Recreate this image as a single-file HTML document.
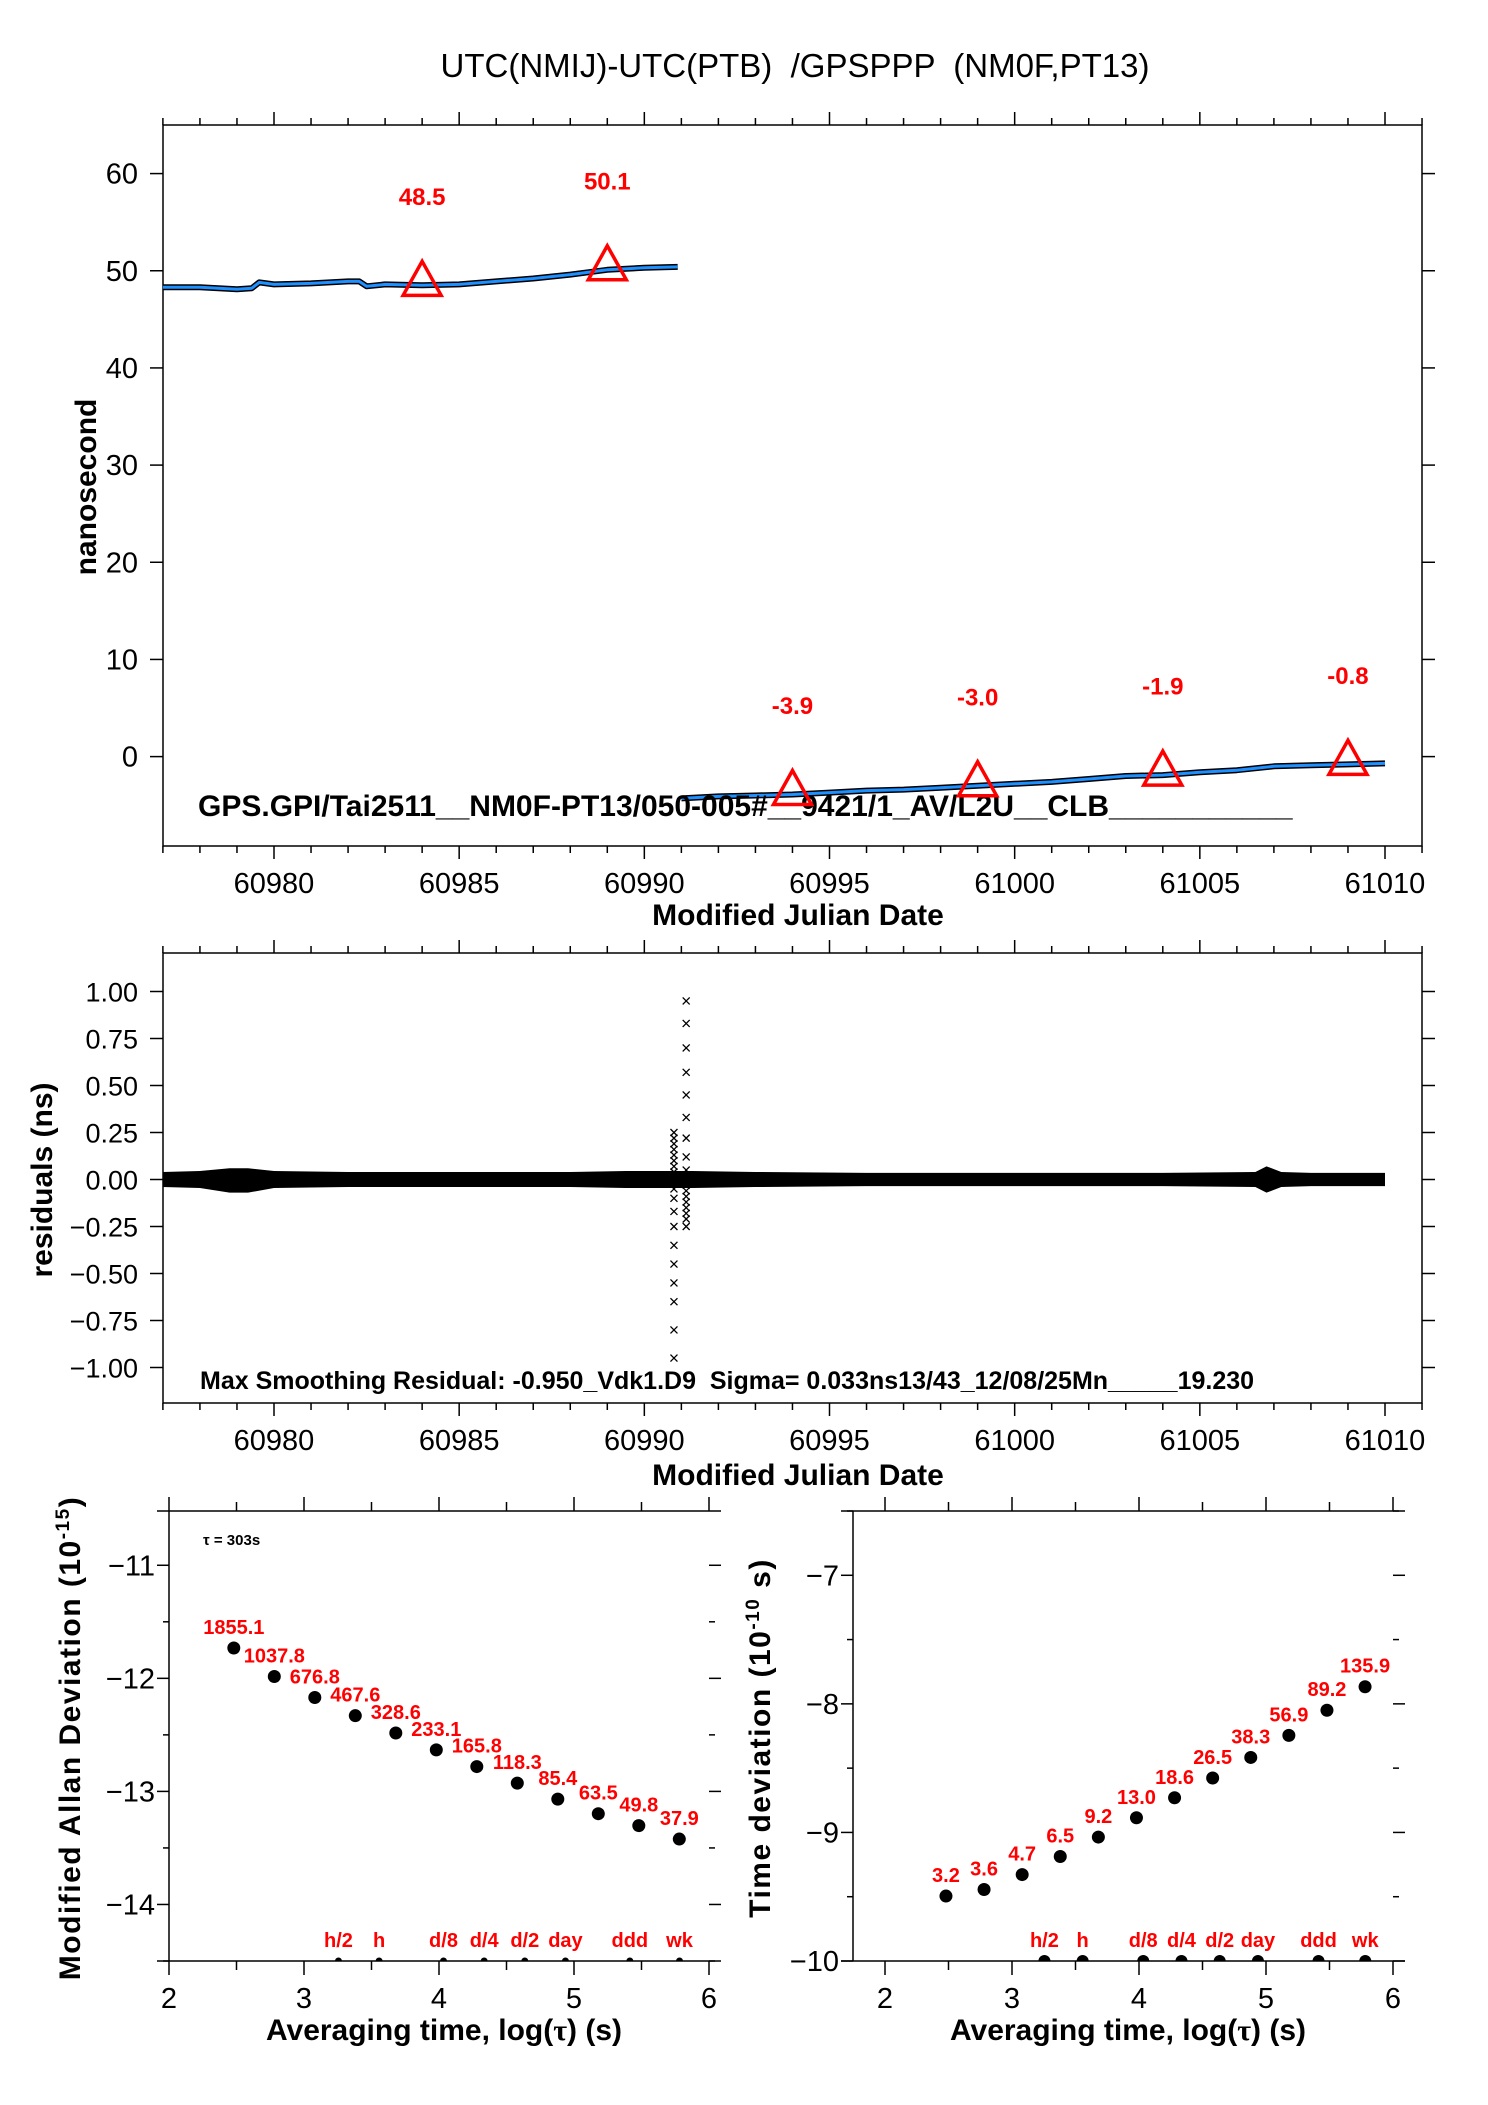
<!DOCTYPE html>
<html><head><meta charset="utf-8"><style>
body{margin:0;background:#fff}
svg{display:block;font-family:"Liberation Sans",sans-serif}
</style></head><body>
<svg id="c" width="1488" height="2105" viewBox="0 0 1488 2105" xmlns="http://www.w3.org/2000/svg">
<text x="795" y="77" font-size="33" text-anchor="middle" style="white-space:pre">UTC(NMIJ)-UTC(PTB)  /GPSPPP  (NM0F,PT13)</text>
</svg>
<script>
// ===== Data =====
const seg1Mjd = [60977,60978,60979,60979.4,60979.6,60980,60981,60982,60982.3,60982.5,60983,60984,60985,60986,60987,60988,60989,60990,60990.9];
const seg1Val = [48.3,48.3,48.1,48.2,48.8,48.6,48.7,48.9,48.9,48.4,48.6,48.5,48.6,48.9,49.2,49.6,50.1,50.3,50.4];
const seg2Mjd = [60991,60992,60993,60994,60995,60996,60997,60998,60999,61000,61001,61002,61003,61004,61005,61006,61007,61008,61009,61010];
const seg2Val = [-4.3,-4.1,-4.0,-3.9,-3.7,-3.5,-3.4,-3.2,-3.0,-2.8,-2.6,-2.3,-2.0,-1.9,-1.6,-1.4,-1.0,-0.9,-0.8,-0.7];
const markMjd = [60984,60989,60994,60999,61004,61009];
const markVal = [48.5,50.1,-3.9,-3.0,-1.9,-0.8];
const topYTicks = [0,10,20,30,40,50,60];
const mjdTicks = [60980,60985,60990,60995,61000,61005,61010];

const resEnvMjd = [60977,60978,60978.8,60979.3,60980,60982,60984,60986,60988,60989.5,60990.7,60991.3,60993,60996,61000,61004,61006.5,61006.8,61007.2,61008,61010];
const resEnvHi  = [0.04,0.045,0.06,0.06,0.045,0.04,0.04,0.04,0.04,0.045,0.045,0.045,0.04,0.035,0.035,0.035,0.04,0.07,0.04,0.035,0.035];
const resEnvLo  = [-0.04,-0.045,-0.07,-0.07,-0.045,-0.04,-0.04,-0.04,-0.04,-0.045,-0.045,-0.045,-0.04,-0.035,-0.035,-0.035,-0.04,-0.07,-0.04,-0.035,-0.035];
const spikeAMjd = 60990.8;
const spikeAVal = [0.25,0.22,0.19,0.16,0.13,0.1,0.07,0.04,0.01,-0.02,-0.05,-0.1,-0.17,-0.25,-0.35,-0.45,-0.55,-0.65,-0.8,-0.95];
const spikeBMjd = 60991.13;
const spikeBVal = [0.95,0.83,0.7,0.57,0.45,0.33,0.22,0.12,0.05,0.0,-0.03,-0.06,-0.09,-0.12,-0.15,-0.18,-0.21,-0.25];
const resYTicks = [1.0,0.75,0.5,0.25,0,-0.25,-0.5,-0.75,-1.0];
const resYLabels = ["1.00","0.75","0.50","0.25","0.00","\u22120.25","\u22120.50","\u22120.75","\u22121.00"];

const adevTau = [2.48,2.78,3.08,3.38,3.68,3.98,4.28,4.58,4.88,5.18,5.48,5.78];
const adevVal = [1855.1,1037.8,676.8,467.6,328.6,233.1,165.8,118.3,85.4,63.5,49.8,37.9];
const adevYTicks = [-11,-12,-13,-14];
const tdevVal = [3.2,3.6,4.7,6.5,9.2,13.0,18.6,26.5,38.3,56.9,89.2,135.9];
const tdevYTicks = [-7,-8,-9,-10];
const logXTicks = [2,3,4,5,6];
const refNames = ["h/2","h","d/8","d/4","d/2","day","ddd","wk"];
const refSecs = [1800,3600,10800,21600,43200,86400,259200,604800];

// ===== helpers =====
const NS="http://www.w3.org/2000/svg";
const svg=document.getElementById('c');
function mk(tag,attrs,parent){const e=document.createElementNS(NS,tag);for(const k in attrs)e.setAttribute(k,attrs[k]);(parent||svg).appendChild(e);return e;}
function lin(d0,d1,r0,r1){return v=>r0+(v-d0)*(r1-r0)/(d1-d0);}
const PL=163, PR=1422;

// ===== Top plot =====
const tX=lin(60980,61010,274,1385), tY=lin(-9.2,65,846,125);
const gTop=mk('g',{});


let r=mk('rect',{x:PL,y:125,width:PR-PL,height:721,fill:'none',stroke:'#000','stroke-width':1.5},gTop);


function mjdAxis(g,X,yt,yb,titleOff){
  for(let d=60977;d<=61011;d++){
    const major=(d%5===0), len=major?13:7, x=X(d);
    mk('line',{x1:x,x2:x,y1:yt,y2:yt-len,stroke:'#000','stroke-width':1.5},g);
    mk('line',{x1:x,x2:x,y1:yb,y2:yb+len,stroke:'#000','stroke-width':1.5},g);
  }
  mjdTicks.forEach(v=>{const t=mk('text',{x:X(v),y:yb+47,'font-size':29,'text-anchor':'middle'},g);t.textContent=v;
    
    });
  const tt=mk('text',{x:798,y:yb+titleOff,'font-size':30,'font-weight':'bold','text-anchor':'middle'},g);
  tt.textContent='Modified Julian Date';
  
  
}
mjdAxis(gTop,tX,125,846,79);
topYTicks.forEach(v=>{const y=tY(v);
  mk('line',{x1:PL,x2:PL-13,y1:y,y2:y,stroke:'#000','stroke-width':1.5},gTop);
  mk('line',{x1:PR,x2:PR+13,y1:y,y2:y,stroke:'#000','stroke-width':1.5},gTop);
  const t=mk('text',{x:138,y:y+10,'font-size':29,'text-anchor':'end'},gTop);t.textContent=v;
  
  });
let yt=mk('text',{transform:'translate(96,487) rotate(-90)','font-size':30,'font-weight':'bold','text-anchor':'middle'},gTop);
yt.textContent='nanosecond';


function series(mj,vals,name){
  const pts=mj.map((m,i)=>tX(m).toFixed(1)+','+tY(vals[i]).toFixed(1)).join(' ');
  mk('polyline',{points:pts,fill:'none',stroke:'#000','stroke-width':6,'stroke-linejoin':'round'},gTop);
  const p=mk('polyline',{points:pts,fill:'none',stroke:'#1e90ff','stroke-width':3,'stroke-linejoin':'round'},gTop);
  
  
}
series(seg1Mjd,seg1Val,'offset-series-1');
series(seg2Mjd,seg2Val,'offset-series-2');
let info=mk('text',{x:198,y:816,'font-size':30,'font-weight':'bold'},gTop);
info.textContent='GPS.GPI/Tai2511__NM0F-PT13/050-005#__9421/1_AV/L2U__CLB___________';


markMjd.forEach((m,i)=>{const x=tX(m),y=tY(markVal[i]);
  const p=mk('polygon',{points:`${x},${y-24} ${x-19},${y+10} ${x+19},${y+10}`,fill:'none',stroke:'#f00','stroke-width':3.5},gTop);
  
  
  const t=mk('text',{x:x,y:tY(markVal[i]+9.2)+9,'font-size':24,'font-weight':'bold',fill:'#f00','text-anchor':'middle'},gTop);
  t.textContent=markVal[i].toFixed(1);
  
  });

// ===== Residual plot =====
const RT=953, RB=1403;
const rX=tX, rY=lin(0,1,1179.5,991.5);
const gRes=mk('g',{});


r=mk('rect',{x:PL,y:RT,width:PR-PL,height:RB-RT,fill:'none',stroke:'#000','stroke-width':1.5},gRes);


mjdAxis(gRes,rX,RT,RB,82);
resYTicks.forEach((v,i)=>{const y=rY(v);
  mk('line',{x1:PL,x2:PL-13,y1:y,y2:y,stroke:'#000','stroke-width':1.5},gRes);
  mk('line',{x1:PR,x2:PR+13,y1:y,y2:y,stroke:'#000','stroke-width':1.5},gRes);
  const t=mk('text',{x:138,y:y+10,'font-size':27,'text-anchor':'end'},gRes);t.textContent=resYLabels[i];
  
  });
yt=mk('text',{transform:'translate(52,1180) rotate(-90)','font-size':30,'font-weight':'bold','text-anchor':'middle'},gRes);
yt.textContent='residuals (ns)';


let bandPts=resEnvMjd.map((m,i)=>rX(m)+','+rY(resEnvHi[i])).concat(resEnvMjd.slice().reverse().map((m,i)=>rX(m)+','+rY(resEnvLo[resEnvLo.length-1-i]))).join(' ');
let band=mk('polygon',{points:bandPts,fill:'#000'},gRes);


function cross(x,y){
  const c=mk('path',{d:`M${x-3.5},${y-3.5}L${x+3.5},${y+3.5}M${x-3.5},${y+3.5}L${x+3.5},${y-3.5}`,stroke:'#000','stroke-width':1.3},gRes);
  
  
}
spikeAVal.forEach(v=>cross(rX(spikeAMjd),rY(v)));
spikeBVal.forEach(v=>cross(rX(spikeBMjd),rY(v)));
info=mk('text',{x:200,y:1389,'font-size':25,'font-weight':'bold',style:'white-space:pre'},gRes);
info.textContent='Max Smoothing Residual: -0.950_Vdk1.D9  Sigma= 0.033ns13/43_12/08/25Mn_____19.230';



// ===== Stability plots =====
function stabPlot(name,L,R,xmin,xmax,ymin,ymax,yTicks,vals,expo,title,dotR,showTau,titleX){
  const T=1511,B=1961;
  const X=lin(xmin,xmax,L,R), Y=lin(ymin,ymax,B,T);
  const g=mk('g',{});
  
  
  mk('line',{x1:L,x2:L,y1:T,y2:B,stroke:'#000','stroke-width':1.5},g);
  mk('line',{x1:L-12,x2:R+12,y1:T,y2:T,stroke:'#000','stroke-width':1.5},g);
  mk('line',{x1:L-12,x2:R+12,y1:B,y2:B,stroke:'#000','stroke-width':1.5},g);
  for(let v=2;v<=6;v+=0.5){const x=X(v),len=(v%1===0)?14:9;
    mk('line',{x1:x,x2:x,y1:T,y2:T-len,stroke:'#000','stroke-width':1.5},g);
    mk('line',{x1:x,x2:x,y1:B,y2:B+len,stroke:'#000','stroke-width':1.5},g);}
  logXTicks.forEach(v=>{const t=mk('text',{x:X(v),y:2008,'font-size':29,'text-anchor':'middle'},g);t.textContent=v;
    
    });
  const xt=mk('text',{x:(L+R)/2+5,y:2040,'font-size':30,'font-weight':'bold','text-anchor':'middle'},g);
  xt.innerHTML='Averaging time, log(<tspan font-family="Liberation Serif">\u03c4</tspan>) (s)';
  
  
  for(let v=Math.ceil(ymin*2)/2;v<=ymax;v+=0.5){const y=Y(v),len=(v%1===0)?12:6;
    mk('line',{x1:L,x2:L-len,y1:y,y2:y,stroke:'#000','stroke-width':1.5},g);
    mk('line',{x1:R,x2:R+len,y1:y,y2:y,stroke:'#000','stroke-width':1.5},g);}
  yTicks.forEach(v=>{const t=mk('text',{x:L-14,y:Y(v)+10,'font-size':29,'text-anchor':'end'},g);t.textContent='\u2212'+Math.abs(v);
    
    });
  const ytt=mk('text',{transform:`translate(${titleX},1738) rotate(-90)`,'font-size':30,'font-weight':'bold','text-anchor':'middle','letter-spacing':1.5},g);
  ytt.innerHTML=title+' (10<tspan dy="-11" font-size="19">-'+expo+'</tspan><tspan dy="11">'+(expo==10?' s)':')')+'</tspan>';
  
  
  adevTau.forEach((tx,i)=>{const x=X(tx),y=Y(Math.log10(vals[i])-expo);
    const c=mk('circle',{cx:x,cy:y,r:6.5,fill:'#000'},g);
    
    
    const t=mk('text',{x:x,y:y-14,'font-size':20,'font-weight':'bold',fill:'#f00','text-anchor':'middle'},g);
    t.textContent=vals[i].toFixed(1);
    
    });
  refSecs.forEach((s,i)=>{const x=X(Math.log10(s));
    const c=mk('path',{d:`M${x-dotR},${B}A${dotR},${dotR} 0 0 1 ${x+dotR},${B}Z`,fill:'#000'},g);
    
    
    const t=mk('text',{x:x,y:B-14,'font-size':20,'font-weight':'bold',fill:'#f00','text-anchor':'middle'},g);
    t.textContent=refNames[i];
    
    });
  if(showTau){const t=mk('text',{x:203,y:1545,'font-size':15,'font-weight':'bold'},g);t.textContent='\u03c4 = 303s';
    
    }
}
stabPlot('modified-allan-deviation-plot',169,709,2,6,-14.5,-10.52,adevYTicks,adevVal,15,'Modified Allan Deviation',3.5,true,80);
stabPlot('time-deviation-plot',853,1393,1.748,6,-10,-6.5,tdevYTicks,tdevVal,10,'Time deviation',6,false,770);
</script>
</body></html>
